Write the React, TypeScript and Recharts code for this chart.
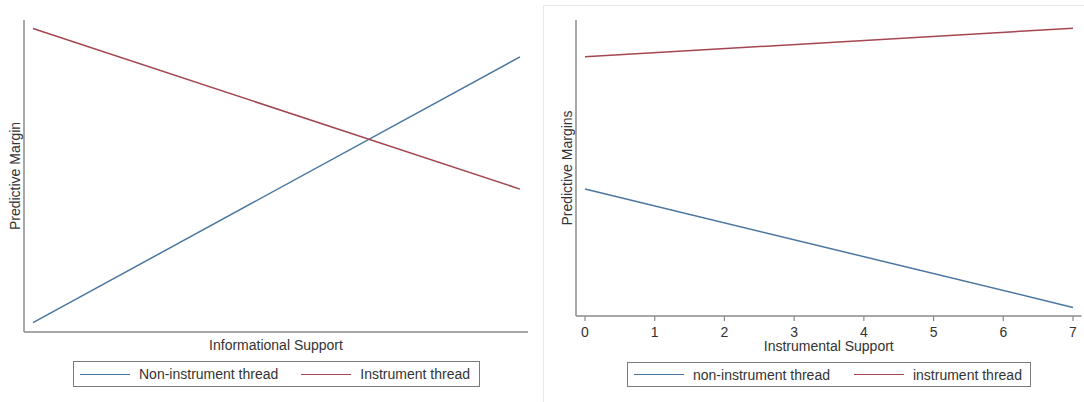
import { LineChart, Line, XAxis, YAxis, Legend } from 'recharts';

// Informational Support panel (no tick labels on x axis)
const infoSupport = [0, 7];
const infoNonInstrument = [0.03, 0.882];
const infoInstrument = [0.973, 0.458];

// Instrumental Support panel
const instSupport = [0, 7];
const instNonInstrument = [0.429, 0.029];
const instInstrument = [0.876, 0.972];

const xTicks = [0, 1, 2, 3, 4, 5, 6, 7];
const seriesOrder = ['nonInst', 'inst'];

const BLUE = '#4a76a0';
const RED = '#a4464f';
const AXIS = '#8a8a8a';
const TEXT = '#333333';
const FONT = '"Liberation Sans", Arial, sans-serif';

const infoRows = infoSupport.map((x, i) => ({
  x,
  nonInst: infoNonInstrument[i],
  inst: infoInstrument[i],
}));

const instRows = instSupport.map((x, i) => ({
  x,
  nonInst: instNonInstrument[i],
  inst: instInstrument[i],
}));

type TLegendItem = { value?: string; color?: string; dataKey?: string };

const LegendBox = ({
  payload,
  itemGap,
}: {
  payload?: TLegendItem[];
  itemGap: number;
}) => {
  const items = [...(payload ?? [])].sort(
    (a, b) => seriesOrder.indexOf(String(a.dataKey)) - seriesOrder.indexOf(String(b.dataKey)),
  );
  return (
    <div
      style={{
        boxSizing: 'border-box',
        width: '100%',
        height: '100%',
        border: '1px solid #7a7a7a',
        display: 'flex',
        alignItems: 'center',
        paddingLeft: 6,
        fontFamily: FONT,
        fontSize: 14,
        color: TEXT,
        background: '#fff',
      }}
    >
      {items.map((entry, i) => (
        <div
          key={entry.value}
          style={{ display: 'flex', alignItems: 'center', marginLeft: i === 0 ? 0 : itemGap }}
        >
          <span style={{ display: 'inline-block', width: 50, height: 0, borderTop: `1.5px solid ${entry.color}` }} />
          <span style={{ marginLeft: 9, whiteSpace: 'nowrap' }}>{entry.value}</span>
        </div>
      ))}
    </div>
  );
};

const App = () => {
  return (
    <div style={{ position: 'absolute', left: 0, top: 0, width: 1084, height: 402, background: '#fff' }}>
      <div style={{ position: 'absolute', left: 0, top: 0 }}>
        <LineChart
          width={540}
          height={402}
          data={infoRows}
          margin={{ top: 20, right: 12, left: 7, bottom: 44 }}
          style={{ fontFamily: FONT }}
        >
          <XAxis
            dataKey="x"
            type="number"
            domain={[0, 7]}
            ticks={xTicks}
            tick={false}
            tickSize={5}
            height={26}
            padding={{ left: 9, right: 8 }}
            axisLine={{ stroke: AXIS, strokeWidth: 1.5 }}
            tickLine={{ stroke: AXIS, strokeWidth: 1.2 }}
            label={{ value: 'Informational Support', position: 'center', fill: TEXT, fontSize: 14 }}
          />
          <YAxis
            type="number"
            domain={[0, 1]}
            width={17}
            tick={false}
            tickLine={false}
            axisLine={{ stroke: AXIS, strokeWidth: 1.5 }}
            label={{ value: 'Predictive Margin', angle: -90, position: 'center', fill: TEXT, fontSize: 14 }}
          />
          <Legend
            layout="horizontal"
            verticalAlign="middle"
            align="center"
            wrapperStyle={{ left: 73, top: 361, width: 407, height: 26 }}
            content={(props: any) => <LegendBox payload={props.payload} itemGap={23} />}
          />
          <Line
            type="linear"
            dataKey="nonInst"
            name="Non-instrument thread"
            stroke={BLUE}
            strokeWidth={1.5}
            dot={false}
            isAnimationActive={false}
          />
          <Line
            type="linear"
            dataKey="inst"
            name="Instrument thread"
            stroke={RED}
            strokeWidth={1.5}
            dot={false}
            isAnimationActive={false}
          />
        </LineChart>
      </div>

      <div
        style={{
          position: 'absolute',
          left: 543,
          top: 5,
          width: 541,
          height: 397,
          borderLeft: '1px solid #e4ebf0',
          borderTop: '1px solid #e4ebf0',
          boxSizing: 'border-box',
        }}
      />

      <div style={{ position: 'absolute', left: 540, top: 0 }}>
        <LineChart
          width={544}
          height={402}
          data={instRows}
          margin={{ top: 20, right: 2.5, left: 19, bottom: 26 }}
          style={{ fontFamily: FONT }}
        >
          <XAxis
            dataKey="x"
            type="number"
            domain={[0, 7]}
            ticks={xTicks}
            tickSize={5}
            tickMargin={6}
            height={60}
            padding={{ left: 9, right: 8.5 }}
            axisLine={{ stroke: AXIS, strokeWidth: 1.5 }}
            tickLine={{ stroke: AXIS, strokeWidth: 1.2 }}
            tick={{ fill: TEXT, fontSize: 14 }}
            label={{ value: 'Instrumental Support', position: 'center', fill: TEXT, fontSize: 14 }}
          />
          <YAxis
            type="number"
            domain={[0, 1]}
            width={17}
            tick={false}
            tickLine={false}
            axisLine={{ stroke: AXIS, strokeWidth: 1.5 }}
            label={{ value: 'Predictive Margins', angle: -90, position: 'center', fill: TEXT, fontSize: 14 }}
          />
          <Legend
            layout="horizontal"
            verticalAlign="middle"
            align="center"
            wrapperStyle={{ left: 87, top: 362, width: 404, height: 25 }}
            content={(props: any) => <LegendBox payload={props.payload} itemGap={24} />}
          />
          <Line
            type="linear"
            dataKey="nonInst"
            name="non-instrument thread"
            stroke={BLUE}
            strokeWidth={1.5}
            dot={false}
            isAnimationActive={false}
          />
          <Line
            type="linear"
            dataKey="inst"
            name="instrument thread"
            stroke={RED}
            strokeWidth={1.5}
            dot={false}
            isAnimationActive={false}
          />
        </LineChart>
      </div>
    </div>
  );
};

export default App;
